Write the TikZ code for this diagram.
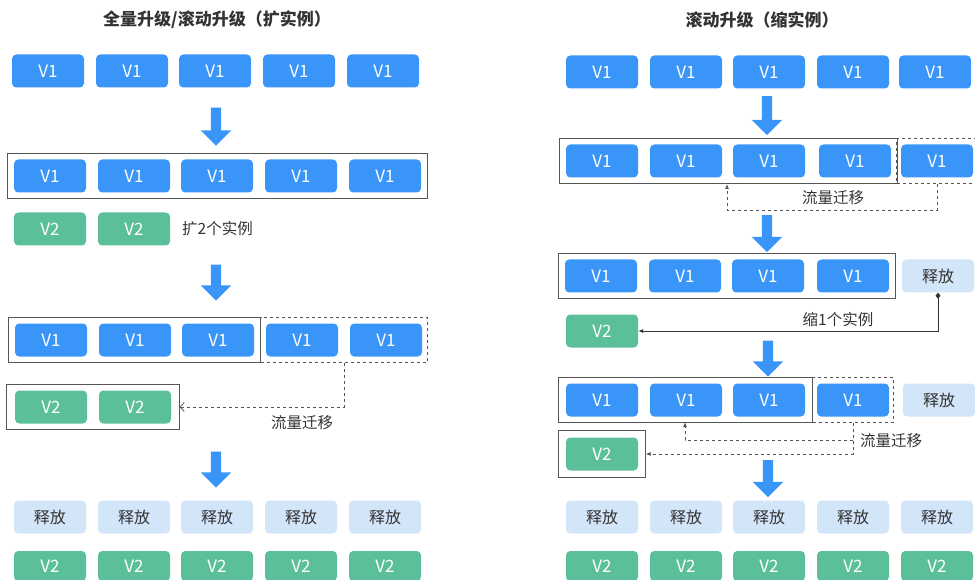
\documentclass[tikz,border=0pt]{standalone}
\usepackage{fontspec}
\setmainfont{Noto Sans CJK SC}
\usepackage{tikz}
\usetikzlibrary{arrows.meta}
\usetikzlibrary{shapes}
\usetikzlibrary{fit}

\definecolor{vonecol}{HTML}{3A95F8}
\definecolor{vtwocol}{HTML}{5BC09A}
\definecolor{relcol}{HTML}{D3E5F8}
\definecolor{framecol}{HTML}{555555}
\definecolor{textcol}{HTML}{333333}

\begin{document}
\begin{tikzpicture}[x=1pt, y=-1pt,
  every node/.style={inner sep=0pt, font=\fontsize{15.5}{17}\selectfont},
  inst/.style={rounded corners=1.5mm, minimum width=72pt, minimum height=33pt},
  vone/.style={inst, fill=vonecol, text=white, font=\fontsize{17}{19}\selectfont},
  vtwo/.style={inst, fill=vtwocol, text=white, font=\fontsize{17}{19}\selectfont},
  rel/.style={inst, fill=relcol, text=textcol, font=\fontsize{16}{18}\selectfont},
  grp/.style={draw=framecol, line width=1pt, inner sep=6pt},
  dgrp/.style={draw=framecol, line width=0.8pt, dashed, inner ysep=6pt, inner xsep=4pt},
  bigarr/.style={single arrow, fill=vonecol, rotate=-90, inner xsep=0pt, inner ysep=5pt, minimum width=30pt, single arrow head extend=10pt, single arrow tip angle=90},
  flow/.style={draw=framecol, line width=0.8pt, dashed},
  lbl/.style={text=textcol},
  title/.style={text=textcol, font=\fontsize{17}{19}\selectfont\bfseries}]
\useasboundingbox (0,0) rectangle (975,580);

\node[title] (tl) at (217,20) {全量升级/滚动升级（扩实例）};
\node[title] (tr) at (762,20) {滚动升级（缩实例）};

\node[vone] (la1) at (48,71) {V1};
\node[vone] (la2) at (132,71) {V1};
\node[vone] (la3) at (215,71) {V1};
\node[vone] (la4) at (299,71) {V1};
\node[vone] (la5) at (383,71) {V1};

\node[bigarr, minimum height=38pt] (lar1) at (216,124) {};

\node[vone] (lb1) at (50,176) {V1};
\node[vone] (lb2) at (134,176) {V1};
\node[vone] (lb3) at (217,176) {V1};
\node[vone] (lb4) at (301,176) {V1};
\node[vone] (lb5) at (385,176) {V1};
\node[grp, fit=(lb1)(lb5)] (lgrp2) {};

\node[vtwo] (lc1) at (50,229) {V2};
\node[vtwo] (lc2) at (134,229) {V2};
\node[lbl, anchor=west] (lscale) at (182,229) {扩2个实例};

\node[bigarr, minimum height=36pt] (lar2) at (216,280) {};

\node[vone] (ld1) at (51,340) {V1};
\node[vone] (ld2) at (135,340) {V1};
\node[vone] (ld3) at (218,340) {V1};
\node[vone] (ld4) at (302,340) {V1};
\node[vone] (ld5) at (386,340) {V1};
\node[grp, fit=(ld1)(ld3)] (lgrp4) {};
\node[dgrp, inner xsep=5pt, fit=(ld4)(ld5)] (ldash4) {};

\node[vtwo] (le1) at (51,407) {V2};
\node[vtwo] (le2) at (135,407) {V2};
\node[grp, inner xsep=8pt, fit=(le1)(le2)] (lgrp5) {};

\draw[flow, -{Straight Barb[length=4pt, width=9pt]}] (ldash4.south) |- (lgrp5.east);
\node[lbl] (lflow) at (302,423) {流量迁移};

\node[bigarr, minimum height=36pt] (lar3) at (216,467) {};

\node[rel] (lf1) at (50,517) {释放};
\node[rel] (lf2) at (134,517) {释放};
\node[rel] (lf3) at (217,517) {释放};
\node[rel] (lf4) at (301,517) {释放};
\node[rel] (lf5) at (385,517) {释放};

\node[vtwo, minimum height=30pt] (lg1) at (50,566) {V2};
\node[vtwo, minimum height=30pt] (lg2) at (134,566) {V2};
\node[vtwo, minimum height=30pt] (lg3) at (217,566) {V2};
\node[vtwo, minimum height=30pt] (lg4) at (301,566) {V2};
\node[vtwo, minimum height=30pt] (lg5) at (385,566) {V2};

\node[vone] (ra1) at (602,72) {V1};
\node[vone] (ra2) at (686,72) {V1};
\node[vone] (ra3) at (769,72) {V1};
\node[vone] (ra4) at (853,72) {V1};
\node[vone] (ra5) at (935,72) {V1};

\node[bigarr, minimum height=39pt] (rar1) at (767,113) {};

\node[vone] (rb1) at (602,161) {V1};
\node[vone] (rb2) at (686,161) {V1};
\node[vone] (rb3) at (769,161) {V1};
\node[vone] (rb4) at (855,161) {V1};
\node[vone] (rb5) at (937,161) {V1};
\node[grp, fit=(rb1)(rb4)] (rgrp2) {};
\node[dgrp, fit=(rb5)] (rdash2) {};

\coordinate (rin2) at (727,184);
\draw[flow, -{Latex[length=5pt, width=4pt]}] (rdash2.south) -- ++(0,26) -| (rin2);
\node[lbl] (rflow2) at (833,198) {流量迁移};

\node[bigarr, minimum height=37pt] (rar2) at (767,231) {};

\node[vone] (rc1) at (601,276) {V1};
\node[vone] (rc2) at (685,276) {V1};
\node[vone] (rc3) at (768,276) {V1};
\node[vone] (rc4) at (853,276) {V1};
\node[grp, fit=(rc1)(rc4)] (rgrp3) {};
\node[rel] (rrel3) at (938,276) {释放};

\node[vtwo] (rv3) at (602,331) {V2};
\draw[textcol, line width=0.8pt, {Diamond[length=6pt, width=5pt]}-{Latex[length=5pt, width=4pt]}] (rrel3.south) |- (rv3.east);
\node[lbl] (rshrink) at (838,320) {缩1个实例};

\node[bigarr, minimum height=36pt] (rar3) at (768,356) {};

\node[vone] (rd1) at (602,400) {V1};
\node[vone] (rd2) at (686,400) {V1};
\node[vone] (rd3) at (769,400) {V1};
\node[vone] (rd4) at (853,400) {V1};
\node[grp, inner xsep=7pt, fit=(rd1)(rd3)] (rgrp4) {};
\node[dgrp, fit=(rd4)] (rdash4) {};
\node[rel] (rrel4) at (939,400) {释放};

\node[vtwo] (rv5) at (602,454) {V2};
\node[grp, inner sep=7pt, fit=(rv5)] (rgrp5) {};

\coordinate (rin4) at (685,422);
\draw[flow, -{Latex[length=5pt, width=4pt]}] (rdash4.south) |- (rgrp5.east);
\draw[flow, -{Latex[length=5pt, width=4pt]}] (rdash4.south) ++(0,17) -| (rin4);
\node[lbl, anchor=west] (rflow4) at (860,441) {流量迁移};

\node[bigarr, minimum height=37pt] (rar4) at (768,476) {};

\node[rel] (rf1) at (602,517) {释放};
\node[rel] (rf2) at (686,517) {释放};
\node[rel] (rf3) at (769,517) {释放};
\node[rel] (rf4) at (853,517) {释放};
\node[rel] (rf5) at (937,517) {释放};

\node[vtwo, minimum height=30pt] (rg1) at (602,566) {V2};
\node[vtwo, minimum height=30pt] (rg2) at (686,566) {V2};
\node[vtwo, minimum height=30pt] (rg3) at (769,566) {V2};
\node[vtwo, minimum height=30pt] (rg4) at (853,566) {V2};
\node[vtwo, minimum height=30pt] (rg5) at (937,566) {V2};
\end{tikzpicture}
\end{document}
